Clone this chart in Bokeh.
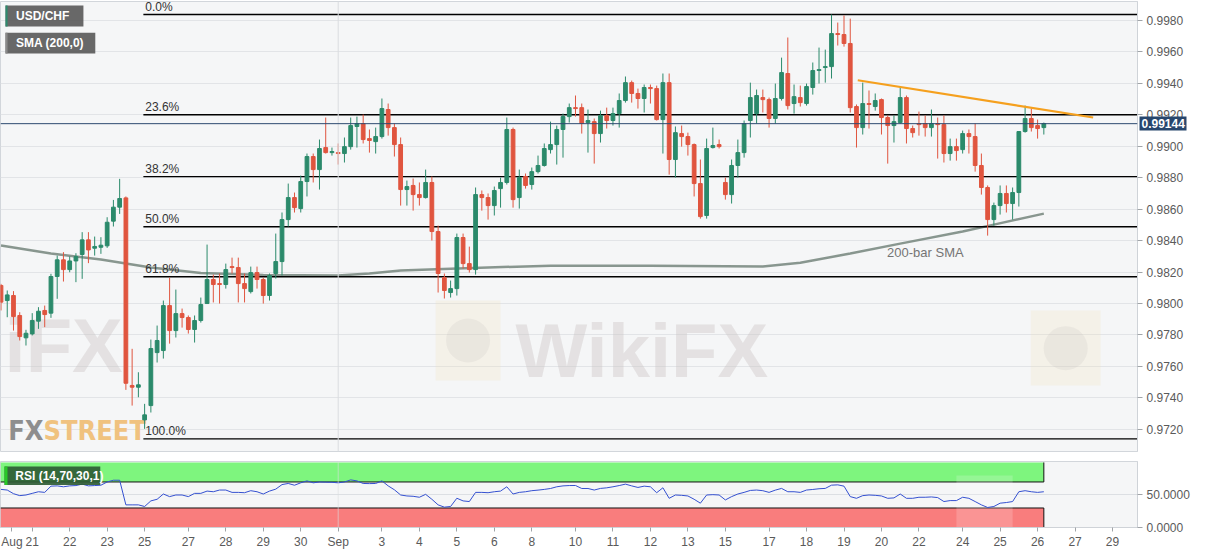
from bokeh.plotting import figure
from bokeh.layouts import column
from bokeh.models import (ColumnDataSource, Range1d, FixedTicker, NumeralTickFormatter,
                          Span, Label, BoxAnnotation, LinearAxis)
from bokeh.core.properties import value
from bokeh.embed import file_html
from bokeh.resources import INLINE

# USD/CHF 4H candles (bar index 0..167)
opens = [0.98115, 0.98019, 0.98051, 0.97924, 0.97782, 0.97807, 0.97888, 0.97956, 0.97939, 0.98172, 0.98278, 0.98216,
         0.98271, 0.98312, 0.98405, 0.98352, 0.98358, 0.98367, 0.98524, 0.98613, 0.98672, 0.97479, 0.97468, 0.97260,
         0.97351, 0.97688, 0.97701, 0.97987, 0.97828, 0.97936, 0.97911, 0.97835, 0.97892, 0.98000, 0.98153, 0.98127,
         0.98121, 0.98235, 0.98229, 0.98127, 0.98076, 0.98197, 0.98153, 0.98051, 0.98191, 0.98267, 0.98534, 0.98674,
         0.98604, 0.98776, 0.98935, 0.98852, 0.98992, 0.98960, 0.98960, 0.98954, 0.98998, 0.99126, 0.99145, 0.99049,
         0.99030, 0.99062, 0.99234, 0.99119, 0.99011, 0.98725, 0.98751, 0.98693, 0.98674, 0.98770, 0.98458, 0.98165,
         0.98070, 0.98095, 0.98420, 0.98254, 0.98216, 0.98693, 0.98674, 0.98623, 0.98731, 0.98770, 0.99107, 0.98674,
         0.98808, 0.98757, 0.98839, 0.98878, 0.98979, 0.99011, 0.99107, 0.99189, 0.99246, 0.99246, 0.99151, 0.99157,
         0.99081, 0.99196, 0.99164, 0.99208, 0.99291, 0.99405, 0.99336, 0.99304, 0.99374, 0.99367, 0.99170, 0.99405,
         0.98916, 0.99081, 0.99062, 0.99011, 0.98763, 0.98560, 0.98992, 0.99011, 0.98770, 0.98693, 0.98878, 0.98960,
         0.99164, 0.99208, 0.99310, 0.99297, 0.99177, 0.99304, 0.99463, 0.99272, 0.99310, 0.99272, 0.99374, 0.99482,
         0.99501, 0.99507, 0.99717, 0.99711, 0.99654, 0.99253, 0.99119, 0.99272, 0.99253, 0.99297, 0.99183, 0.99132,
         0.99151, 0.99310, 0.99113, 0.99145, 0.99145, 0.99119, 0.99145, 0.99138, 0.98954, 0.98998, 0.98979, 0.99081,
         0.99062, 0.98878, 0.98738, 0.98534, 0.98623, 0.98700, 0.98636, 0.98706, 0.99094, 0.99177, 0.99132, 0.99119]
highs = [0.98125, 0.98083, 0.98079, 0.97945, 0.97833, 0.97939, 0.97977, 0.97987, 0.98189, 0.98305, 0.98327, 0.98299,
         0.98320, 0.98454, 0.98454, 0.98426, 0.98422, 0.98549, 0.98659, 0.98793, 0.98681, 0.97712, 0.97563, 0.97362,
         0.97771, 0.97860, 0.98019, 0.98165, 0.98089, 0.97968, 0.97924, 0.97924, 0.98038, 0.98375, 0.98184, 0.98191,
         0.98254, 0.98292, 0.98292, 0.98191, 0.98235, 0.98235, 0.98165, 0.98191, 0.98445, 0.98579, 0.98763, 0.98706,
         0.98814, 0.98954, 0.98954, 0.99043, 0.99183, 0.98992, 0.99018, 0.99056, 0.99183, 0.99189, 0.99202, 0.99107,
         0.99119, 0.99304, 0.99272, 0.99145, 0.99056, 0.98782, 0.98795, 0.98770, 0.98852, 0.98808, 0.98496, 0.98191,
         0.98146, 0.98445, 0.98445, 0.98362, 0.98738, 0.98719, 0.98700, 0.98744, 0.98801, 0.99183, 0.99119, 0.98852,
         0.98827, 0.98865, 0.98941, 0.99018, 0.99157, 0.99132, 0.99208, 0.99272, 0.99323, 0.99272, 0.99234, 0.99177,
         0.99227, 0.99246, 0.99246, 0.99336, 0.99444, 0.99418, 0.99367, 0.99393, 0.99393, 0.99386, 0.99463, 0.99463,
         0.99126, 0.99132, 0.99087, 0.99018, 0.98916, 0.99049, 0.99119, 0.99043, 0.98801, 0.98916, 0.99043, 0.99164,
         0.99405, 0.99361, 0.99361, 0.99310, 0.99399, 0.99564, 0.99692, 0.99393, 0.99386, 0.99399, 0.99533, 0.99628,
         0.99615, 0.99838, 0.99787, 0.99832, 0.99812, 0.99266, 0.99405, 0.99355, 0.99336, 0.99304, 0.99196, 0.99196,
         0.99374, 0.99323, 0.99132, 0.99221, 0.99196, 0.99234, 0.99183, 0.99196, 0.99049, 0.99049, 0.99100, 0.99107,
         0.99145, 0.98954, 0.98751, 0.98642, 0.98751, 0.98751, 0.98738, 0.99094, 0.99259, 0.99240, 0.99170, 0.99151]
lows = [0.97956, 0.97913, 0.97828, 0.97765, 0.97733, 0.97797, 0.97839, 0.97850, 0.97909, 0.98030, 0.98140, 0.98199,
        0.98136, 0.98157, 0.98257, 0.98305, 0.98316, 0.98354, 0.98490, 0.98570, 0.97451, 0.97351, 0.97404, 0.97203,
        0.97307, 0.97625, 0.97650, 0.97745, 0.97784, 0.97847, 0.97809, 0.97752, 0.97879, 0.98000, 0.98007, 0.98000,
        0.98095, 0.98191, 0.98007, 0.98007, 0.98064, 0.98095, 0.98000, 0.98019, 0.98159, 0.98178, 0.98490, 0.98579,
        0.98579, 0.98681, 0.98770, 0.98725, 0.98954, 0.98941, 0.98884, 0.98897, 0.98979, 0.98992, 0.99018, 0.98960,
        0.98954, 0.99049, 0.99068, 0.98935, 0.98623, 0.98623, 0.98591, 0.98623, 0.98668, 0.98401, 0.98070, 0.98032,
        0.98038, 0.98051, 0.98222, 0.98197, 0.98184, 0.98591, 0.98534, 0.98560, 0.98610, 0.98757, 0.98610, 0.98604,
        0.98731, 0.98725, 0.98827, 0.98871, 0.98954, 0.98884, 0.98928, 0.99151, 0.99189, 0.99081, 0.98960, 0.98890,
        0.99024, 0.99113, 0.99132, 0.99119, 0.99278, 0.99278, 0.99240, 0.99215, 0.99272, 0.99164, 0.98954, 0.98820,
        0.98801, 0.98998, 0.98941, 0.98681, 0.98540, 0.98540, 0.98986, 0.98986, 0.98661, 0.98636, 0.98801, 0.98928,
        0.99056, 0.99145, 0.99215, 0.99119, 0.99145, 0.99291, 0.99234, 0.99208, 0.99253, 0.99259, 0.99329, 0.99399,
        0.99405, 0.99431, 0.99641, 0.99634, 0.99215, 0.98992, 0.99075, 0.99113, 0.99227, 0.99075, 0.98890, 0.99024,
        0.99145, 0.99018, 0.99056, 0.99068, 0.99062, 0.99062, 0.98922, 0.98897, 0.98909, 0.98909, 0.98954, 0.98954,
        0.98839, 0.98693, 0.98432, 0.98496, 0.98566, 0.98579, 0.98534, 0.98617, 0.99087, 0.99094, 0.99049, 0.99075]
closes = [0.98009, 0.98055, 0.97917, 0.97790, 0.97811, 0.97892, 0.97951, 0.97930, 0.98172, 0.98278, 0.98216, 0.98271,
          0.98299, 0.98405, 0.98341, 0.98363, 0.98371, 0.98517, 0.98613, 0.98668, 0.97493, 0.97468, 0.97483, 0.97292,
          0.97714, 0.97765, 0.97987, 0.97828, 0.97936, 0.97911, 0.97835, 0.97892, 0.97994, 0.98153, 0.98121, 0.98121,
          0.98216, 0.98229, 0.98127, 0.98095, 0.98197, 0.98153, 0.98051, 0.98178, 0.98267, 0.98534, 0.98674, 0.98610,
          0.98776, 0.98935, 0.98852, 0.98986, 0.98960, 0.98967, 0.98954, 0.98998, 0.99132, 0.99145, 0.99043, 0.99037,
          0.99062, 0.99240, 0.99119, 0.99011, 0.98725, 0.98744, 0.98693, 0.98674, 0.98770, 0.98458, 0.98191, 0.98083,
          0.98095, 0.98420, 0.98254, 0.98216, 0.98693, 0.98674, 0.98623, 0.98719, 0.98770, 0.99107, 0.98661, 0.98801,
          0.98751, 0.98839, 0.98878, 0.98986, 0.99011, 0.99107, 0.99189, 0.99246, 0.99240, 0.99145, 0.99164, 0.99081,
          0.99196, 0.99164, 0.99208, 0.99291, 0.99405, 0.99336, 0.99304, 0.99374, 0.99367, 0.99170, 0.99405, 0.98916,
          0.99087, 0.99062, 0.99011, 0.98763, 0.98553, 0.98986, 0.99005, 0.98998, 0.98693, 0.98878, 0.98960, 0.99145,
          0.99310, 0.99323, 0.99297, 0.99177, 0.99304, 0.99469, 0.99259, 0.99316, 0.99278, 0.99380, 0.99482, 0.99488,
          0.99507, 0.99717, 0.99711, 0.99654, 0.99246, 0.99119, 0.99272, 0.99266, 0.99291, 0.99183, 0.99132, 0.99157,
          0.99310, 0.99113, 0.99087, 0.99138, 0.99119, 0.99145, 0.99138, 0.98954, 0.98998, 0.98973, 0.99081, 0.99062,
          0.98878, 0.98738, 0.98534, 0.98623, 0.98700, 0.98636, 0.98706, 0.99094, 0.99177, 0.99119, 0.99113, 0.99145]

# RSI(14) per bar
rsi = [58.6, 57.6, 52, 49, 50, 52.5, 55, 54, 63.6, 64, 62.6, 64, 64.5, 66.7, 64, 64.5, 65, 70, 72.7, 72.7,
       34.8, 34.8, 34.8, 32.3, 40.9, 43.4, 51.5, 47.5, 50, 50, 47.5, 52.5, 52.5, 56, 55, 57.6, 57.6, 54, 54, 53.5,
       56.6, 55, 51.5, 56, 59, 66, 67.7, 65, 68.7, 71.7, 68.7, 70, 69.7, 69.5, 68.7, 70, 73.2, 71.7, 67.7, 67.5,
       67.7, 71.7, 64, 58, 50, 48.5, 48, 46.5, 51, 43.4, 34.8, 31.3, 32.3, 45, 40.9, 39.9, 54, 54, 53.5, 55,
       56, 62.6, 51.5, 54, 55, 56.6, 57.5, 58.6, 60, 62.6, 64, 64.5, 64.6, 60, 60, 57.6, 60.1, 61, 62.6, 64.5,
       66.7, 64, 61.6, 63.6, 62.6, 53.5, 61.1, 44.9, 50, 49.5, 48.5, 43.4, 37.4, 50, 50.5, 50, 42.4, 47.5, 51.5, 54,
       57, 57.6, 56.6, 54, 57.5, 60.1, 55, 55, 54, 57.6, 58.5, 59.6, 60.1, 65.1, 65.6, 63.6, 47.5, 44.9, 49, 50,
       49.5, 48.5, 44.9, 45.5, 51.5, 44.9, 44.9, 46.5, 46.5, 47, 46, 39.9, 41.4, 41.4, 46.5, 44.9, 39.9, 34.8, 30.8, 32.3,
       37.4, 38.4, 39.9, 55, 56.6, 55, 54, 55]

# 200-bar SMA read at a few bars
sma_bar = [0, 8, 16, 24, 32, 42, 54, 59, 64, 72, 88, 104, 122, 128, 136, 144, 154, 159, 167]
sma_val = [0.98369, 0.98318, 0.98280, 0.98229, 0.98194, 0.98181, 0.98178, 0.98191, 0.98210, 0.98222,
           0.98241, 0.98241, 0.98235, 0.98260, 0.98318, 0.98381, 0.98458, 0.98502, 0.98572]

# Fibonacci retracement of the Aug 25 low -> Sep 18 high
fib_high = 0.99838
fib_low = 0.97139
fib_start = 22.8
fib_ratios = [0.0, 0.236, 0.382, 0.5, 0.618, 1.0]

# falling trend line
trend_x = [137.2, 174.9]
trend_y = [0.99420, 0.99183]

current_price = 0.99144

y_ticks = [0.9720, 0.9740, 0.9760, 0.9780, 0.9800, 0.9820, 0.9840, 0.9860, 0.9880, 0.9900,
           0.9920, 0.9940, 0.9960, 0.9980]
x_tick_bars = [1.75, 5, 11, 17, 23, 30, 36, 42, 48, 54, 61, 67, 73, 79, 85, 92, 98, 104, 110, 116,
               123, 129, 135, 141, 147, 154, 160, 166, 172, 178]
x_tick_labels = ["Aug", "21", "22", "23", "25", "27", "28", "29", "30", "Sep", "3", "4", "5", "6", "8",
                 "10", "11", "12", "13", "15", "17", "18", "19", "20", "22", "24", "25", "26", "27", "29"]

UP = "#2b8a6b"
DOWN = "#e0553f"
FONT = "Liberation Sans"

xr = Range1d(-0.08, 182)

def style_common(f):
    f.background_fill_color = "#f5f6f7"
    f.border_fill_color = "white"
    f.outline_line_color = "#d2d6db"
    f.xgrid.grid_line_color = None
    f.ygrid.grid_line_color = "#e2e4e7"
    ax = f.yaxis[0]
    ax.axis_line_color = "#cfd3d8"
    ax.major_tick_line_color = "#a0a4a8"
    ax.major_tick_out = 5
    ax.major_tick_in = 0
    ax.minor_tick_line_color = None
    ax.major_label_text_font = FONT
    ax.major_label_text_font_size = "12px"
    ax.major_label_text_color = "#5a5a5a"
    ax.major_label_standoff = 4

p = figure(width=1195, height=461, x_range=xr, y_range=Range1d(0.97059, 0.99921),
           output_backend="svg", toolbar_location=None, x_axis_location=None,
           y_axis_location="right", min_border_left=0, min_border_right=58,
           min_border_top=1, min_border_bottom=10)
style_common(p)
p.yaxis.ticker = FixedTicker(ticks=y_ticks)
p.yaxis.formatter = NumeralTickFormatter(format="0.0000")

# price tag: an outer axis with one thick tick drawn back over the price scale
tag = LinearAxis(ticker=FixedTicker(ticks=[current_price]),
                 formatter=NumeralTickFormatter(format="0.00000"),
                 axis_line_color=None, major_tick_in=47, major_tick_out=0,
                 major_tick_line_width=14, major_tick_line_color="#27466d",
                 minor_tick_line_color=None, major_label_standoff=-45,
                 major_label_text_color="white", major_label_text_font_style="bold",
                 major_label_text_font=FONT, major_label_text_font_size="12px")
p.add_layout(tag, "right")

sep_bar = x_tick_bars[x_tick_labels.index("Sep")]
p.add_layout(Span(location=sep_bar, dimension="height", line_color="#dadcdf", line_width=1))

# watermarks
p.quad(left=[69.6, 164.9], right=[80, 176.1], bottom=[0.97510, 0.97478], top=[0.98019, 0.97955],
       fill_color="#f3dfb4", fill_alpha=0.22, line_color=None)
p.scatter(x=[74.8, 170.5], y=[0.97765, 0.97716], size=44, marker="circle", fill_color="#b9b4b4",
          fill_alpha=0.16, line_color=None)
p.text(x=[82.4], y=[0.97701], text=["WikiFX"], text_font=value(FONT),
       text_font_style="bold", text_font_size="76px", text_color="#cbc2c2", text_alpha=0.4,
       text_baseline="alphabetic")
p.text(x=[19.5], y=[0.97733], text=["iFX"], text_font=value(FONT), text_align="right",
       text_font_style="bold", text_font_size="76px", text_color="#cbc2c2", text_alpha=0.4,
       text_baseline="alphabetic")

# FXStreet logo
logo_font = value("'DejaVu Sans Condensed', 'Liberation Sans Narrow', 'Liberation Sans', sans-serif")
p.text(x=[6.8], y=[0.97192], text=["FX"], text_font=logo_font, text_font_style="bold",
       text_font_size="27px", text_color="#8e8e8e", text_baseline="alphabetic", text_align="right")
p.text(x=[6.8], y=[0.97192], text=["STREET"], text_font=logo_font, text_font_style="bold",
       text_font_size="27px", text_color="#f0c27f", text_baseline="alphabetic")

# SMA
p.line(sma_bar, sma_val, line_color="#7c8c83", line_width=2.5, line_alpha=0.9)
p.text(x=[141.9], y=[0.98324], text=["200-bar SMA"], text_font=value(FONT),
       text_font_size="13px", text_color="#747474", text_baseline="middle")

# fibonacci levels
fib_prices = [fib_high - r * (fib_high - fib_low) for r in fib_ratios]
fib_labels = ["%.1f%%" % (r * 100) for r in fib_ratios]
p.segment(x0=[fib_start] * len(fib_prices), y0=fib_prices, x1=[xr.end] * len(fib_prices),
          y1=fib_prices, line_color="black", line_width=1.4)
p.text(x=[fib_start + 0.3] * len(fib_prices), y=fib_prices, text=fib_labels, text_font=value(FONT),
       text_font_size="12px", text_color="#333333", text_baseline="bottom", y_offset=-1)

# current price line
p.add_layout(Span(location=current_price, dimension="width", line_color="#2d4a70", line_width=1))

# candles
bars = list(range(len(closes)))
colors = [UP if c >= o else DOWN for o, c in zip(opens, closes)]
src = ColumnDataSource(dict(x=bars, h=highs, l=lows,
                            top=[max(o, c) for o, c in zip(opens, closes)],
                            bottom=[min(o, c) for o, c in zip(opens, closes)],
                            color=colors))
p.segment(x0="x", y0="h", x1="x", y1="l", line_color="color", line_width=1, source=src)
p.vbar(x="x", width=0.6, top="top", bottom="bottom", fill_color="color", line_color="color",
       line_width=1, source=src)

# trend line
p.line(trend_x, trend_y, line_color="#f5a01e", line_width=2.2)

# legend boxes
for bottom, top, right, strip, txt, ty in [(0.99762, 0.99895, 13.2, "#2e8b6e", "USD/CHF", 0.99828),
                                           (0.99590, 0.99723, 15.1, "#8a8a8a", "SMA (200,0)", 0.99657)]:
    p.add_layout(BoxAnnotation(left=0.72, right=right, bottom=bottom, top=top,
                               fill_color="#5b5b5b", fill_alpha=0.92, line_color=None))
    p.add_layout(BoxAnnotation(left=0.72, right=1.05, bottom=bottom, top=top,
                               fill_color=strip, fill_alpha=1, line_color=None))
    p.add_layout(Label(x=2.4, y=ty, text=txt, text_font=FONT, text_font_size="12px",
                       text_font_style="bold", text_color="white", text_baseline="middle"))

# RSI panel
r = figure(width=1195, height=90, x_range=xr, y_range=Range1d(0, 101.5),
           output_backend="svg", toolbar_location=None, y_axis_location="right",
           min_border_left=0, min_border_right=58, min_border_top=0, min_border_bottom=23)
style_common(r)
r.yaxis.ticker = FixedTicker(ticks=[0, 50])
r.yaxis.formatter = NumeralTickFormatter(format="0.0000")
r.ygrid.grid_line_color = "#dcdfe3"

xa = r.xaxis[0]
xa.ticker = FixedTicker(ticks=x_tick_bars)
xa.major_label_overrides = dict(zip(x_tick_bars, x_tick_labels))
xa.axis_line_color = "#cfd3d8"
xa.major_tick_line_color = "#a0a4a8"
xa.major_tick_out = 4
xa.major_tick_in = 0
xa.minor_tick_line_color = None
xa.major_label_text_font = FONT
xa.major_label_text_font_size = "12px"
xa.major_label_text_color = "#5a5a5a"
xa.major_label_standoff = 3

last = bars[-1]
r.quad(left=[xr.start, xr.start], right=[last, last], bottom=[70, 0], top=[100, 30],
       fill_color=["#7ef57e", "#f97d7d"], line_color=None)
r.multi_line(xs=[[xr.start, last], [xr.start, last], [last, last], [last, last]],
             ys=[[70, 70], [30, 30], [70, 100], [0, 30]], line_color="#111111", line_width=1)
r.add_layout(Span(location=sep_bar, dimension="height", line_color="#dadcdf", line_width=1,
                  line_alpha=0.6))
r.quad(left=[153], right=[162], bottom=[0], top=[80], fill_color="white", fill_alpha=0.18,
       line_color=None)
r.line(bars, rsi, line_color="#3450d0", line_width=1)

r.add_layout(BoxAnnotation(left=0.56, right=15.9, bottom=65.2, top=93.9,
                           fill_color="#2f5c35", fill_alpha=0.92, line_color=None))
r.add_layout(BoxAnnotation(left=0.56, right=1.04, bottom=65.2, top=93.9,
                           fill_color="#28c828", fill_alpha=1, line_color=None))
r.add_layout(Label(x=2.3, y=79.5, text="RSI (14,70,30,1)", text_font=FONT, text_font_size="12px",
                   text_font_style="bold", text_color="white", text_baseline="middle"))

page = column(p, r)
open("out.html", "w").write(file_html(page, INLINE, "USD/CHF"))
